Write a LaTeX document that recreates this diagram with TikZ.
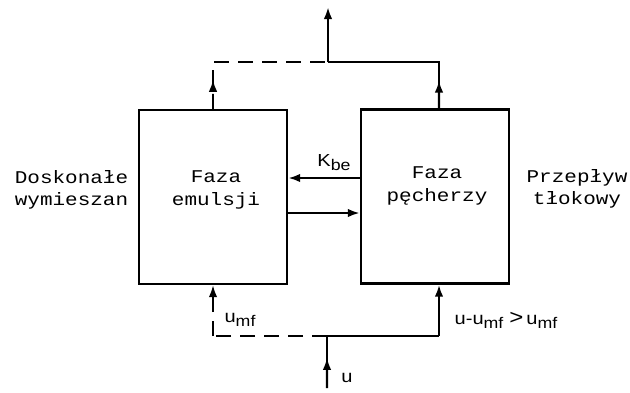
\documentclass[tikz,border=0pt]{standalone}
\usepackage{fontspec}
\newfontfamily\monofam[FakeStretch=1.17]{Liberation Mono}
\newfontfamily\labfam[FakeStretch=1.15]{Liberation Sans}
\usetikzlibrary{arrows.meta,positioning,calc}
\newcommand{\lowidx}[1]{\raisebox{-4bp}{\fontsize{15.5}{15.5}\selectfont #1}}
\tikzset{
  phase/.style={draw,line width=2.4bp,minimum width=148bp,minimum height=174bp,inner sep=0pt},
  txt/.style={align=center,font=\monofam\fontsize{18}{22.5}\selectfont},
  lab/.style={font=\labfam\fontsize{17.5}{18}\selectfont,inner sep=0pt},
  ln/.style={line width=2.2bp},
  dsh/.style={ln,line width=1.8bp,dash pattern=on 15bp off 9bp},
  arhead/.style={-{Latex[length=12bp,width=8.5bp]}},
  ar/.style={ln,arhead},
}
\begin{document}
\begin{tikzpicture}[x=1bp,y=-1bp]
\useasboundingbox (0,0) rectangle (630,392);
% ---- phases ----
\node[phase] (emul) at (213,197) {};
\node[phase] (pech) at (435,196.5) {};
\node[txt] (emultxt) at (216,190) {Faza\\emulsji};
\node[txt] (pechtxt) at (437,186) {Faza\\pęcherzy};
\node[txt] (mix) at (71.5,190) {Doskonałe\\wymieszan};
\node[txt] (plug) at (577,189) {Przepływ\\tłokowy};

% ---- exchange between phases ----
\coordinate (kb) at (0,178);
\coordinate (eb) at (0,213);
\draw[ar] (pech.west |- kb) -- (emul.east |- kb);
\draw[ar] (emul.east |- eb) -- (pech.west |- eb);
\node[lab] (kbe) at (334,163) {K\lowidx{be}};

% ---- outlet ----
\coordinate (tl) at (213,62); \coordinate (tr) at (439,62);
\coordinate (tc) at (328,62); \coordinate (out) at (328,7);
\draw[dsh] (emul.north) -- (tl) -- (tc);
\draw[dsh,arhead] (emul.north) -- ($(emul.north)!0.62!(tl)$);
\draw[ln] (pech.north -| tr) -- (tr) -- (tc);
\draw[ar] (pech.north -| tr) -- ($(pech.north -| tr)!0.6!(tr)$);
\draw[ar] (tc) -- (out);

% ---- inlet ----
\coordinate (bl) at (213,336); \coordinate (br) at (439,336);
\coordinate (bc) at (327,336); \coordinate (in) at (327,388);
\draw[dsh] (bc) -- (bl);
\draw[dsh,arhead] (bl) -- (emul.south);
\draw[ln] (in) -- (bc) -- (br);
\draw[ar] (in) -- ($(in)!0.58!(bc)$);
\draw[ar] (br) -- (pech.south -| br);
\node[lab] (umf) at (240,320) {u\lowidx{mf}};
\node[lab] (udiff) at (506,320) {u-u\lowidx{mf}\hspace{6bp}{\fontsize{21}{21}\selectfont >}\hspace{3bp}u\lowidx{mf}};
\node[lab] (u) at (347,378) {u};
\end{tikzpicture}
\end{document}
